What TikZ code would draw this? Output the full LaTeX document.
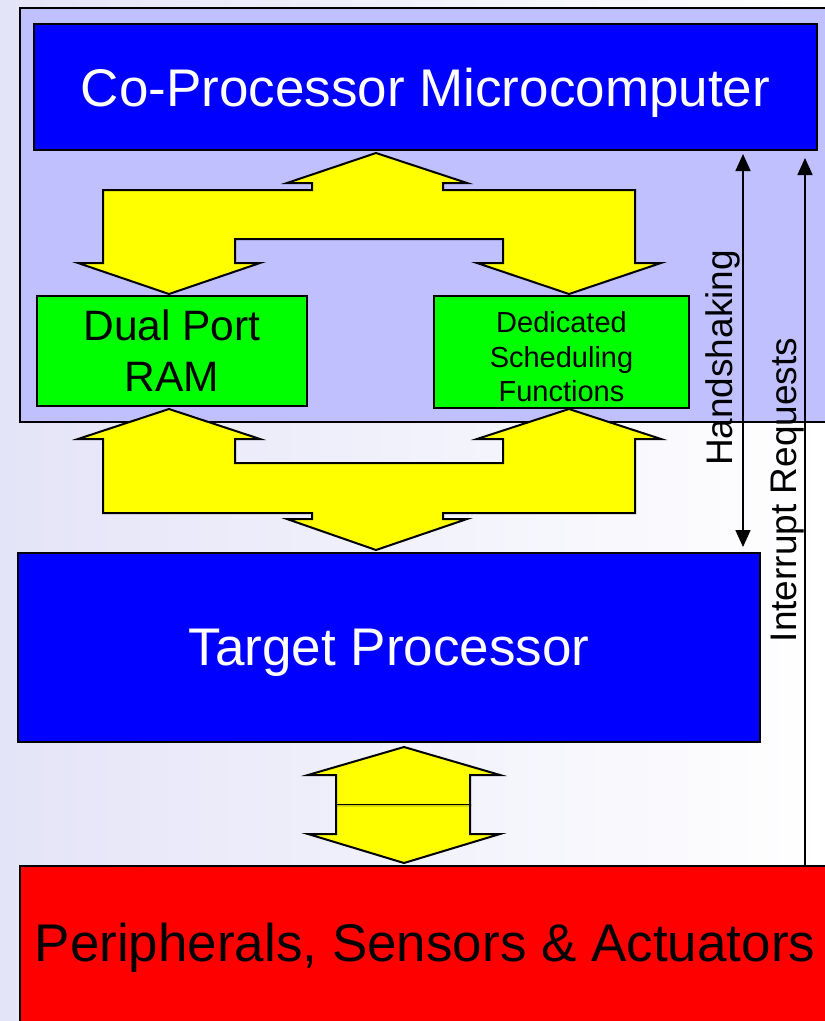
\documentclass[tikz,border=0pt]{standalone}
\usepackage{fontspec}
\setmainfont{Liberation Sans}
\usetikzlibrary{arrows.meta,calc}
\definecolor{bgl}{RGB}{228,228,248}
\definecolor{panelc}{RGB}{192,192,255}
\definecolor{pblue}{RGB}{0,0,255}
\definecolor{pgreen}{RGB}{0,255,0}
\definecolor{pyellow}{RGB}{255,255,0}
\definecolor{pred}{RGB}{255,0,0}
\begin{document}
\begin{tikzpicture}[x=1pt,y=-1pt,
  box/.style={draw=black, line width=2pt, inner sep=0pt, align=center},
  bigtext/.style={font=\fontsize{53}{60}\selectfont},
  yarrow/.style={fill=pyellow, draw=black, line width=2pt, line join=miter},
  sig/.style={line width=1.6pt},
  sigtip/.tip={Triangle[length=17pt,width=15pt]},
  vlabel/.style={rotate=90, font=\fontsize{37}{40}\selectfont, inner sep=0pt}]
\useasboundingbox (0,0) rectangle (825,1021);
\shade[left color=bgl, right color=white] (0,0) rectangle (825,1021);
% panel
\node[box, fill=panelc, minimum width=820pt, minimum height=414pt] (panel) at (430,215) {};
% boxes
\node[box, fill=pblue, text=white, bigtext, text depth=0pt, minimum width=783pt, minimum height=126pt] (cop) at (425.5,87) {Co-Processor Microcomputer};
\node[box, fill=pgreen, minimum width=270pt, minimum height=110pt, font=\fontsize{42.5}{51}\selectfont] (ram) at (172,351) {Dual Port\\RAM};
\node[box, fill=pgreen, minimum width=255pt, minimum height=112pt] (dsf) at (561.5,352) {};
\node[align=center, inner sep=0pt, font=\fontsize{29}{34.5}\selectfont] (dsft) at (561.5,357) {Dedicated\\Scheduling\\Functions};
\node[box, fill=pblue, text=white, bigtext, text depth=0pt, minimum width=742pt, minimum height=189pt] (tp) at (389,647.5) {Target Processor};
\node[box, fill=pred, text=black, bigtext, minimum width=810pt, minimum height=164pt] (per) at (425,948) {Peripherals, Sensors \& Actuators};
% yellow arrows
\draw[yarrow] (376,153) -- (467,183) -- (443,183) -- (443,190) -- (635,190) -- (635,263) -- (661,263) -- (569,294) -- (477,263) -- (503,263) -- (503,239) -- (235,239) -- (235,263) -- (260,263) -- (169,294) -- (78,263) -- (103,263) -- (103,190) -- (312,190) -- (312,183) -- (287,183) -- cycle;
\draw[yarrow] (169,409) -- (260,439) -- (235,439) -- (235,463) -- (503,463) -- (503,439) -- (477,439) -- (569,409) -- (661,439) -- (635,439) -- (635,513) -- (443,513) -- (443,519) -- (467,519) -- (376,550) -- (287,519) -- (312,519) -- (312,513) -- (103,513) -- (103,439) -- (78,439) -- cycle;
\draw[yarrow] (404,747) -- (500,775) -- (470,775) -- (470,805) -- (336,805) -- (336,775) -- (308,775) -- cycle;
\draw[yarrow] (336,805) -- (470,805) -- (470,834) -- (500,834) -- (404,863) -- (308,834) -- (336,834) -- cycle;
\draw[pyellow!80!black, line width=1pt] (337,805) -- (469,805);
% signal lines
\coordinate (hsx) at (743,0);
\coordinate (irx) at (805,0);
\draw[sig, sigtip-sigtip, shorten <=3pt, shorten >=5pt] (cop.south -| hsx) -- (tp.north -| hsx);
\draw[sig, -sigtip, shorten >=7pt] (per.north -| irx) -- (cop.south -| irx);
\node[vlabel] (hsl) at (723,358) {Handshaking};
\node[vlabel] (irl) at (788,490) {Interrupt Requests};
\end{tikzpicture}
\end{document}
